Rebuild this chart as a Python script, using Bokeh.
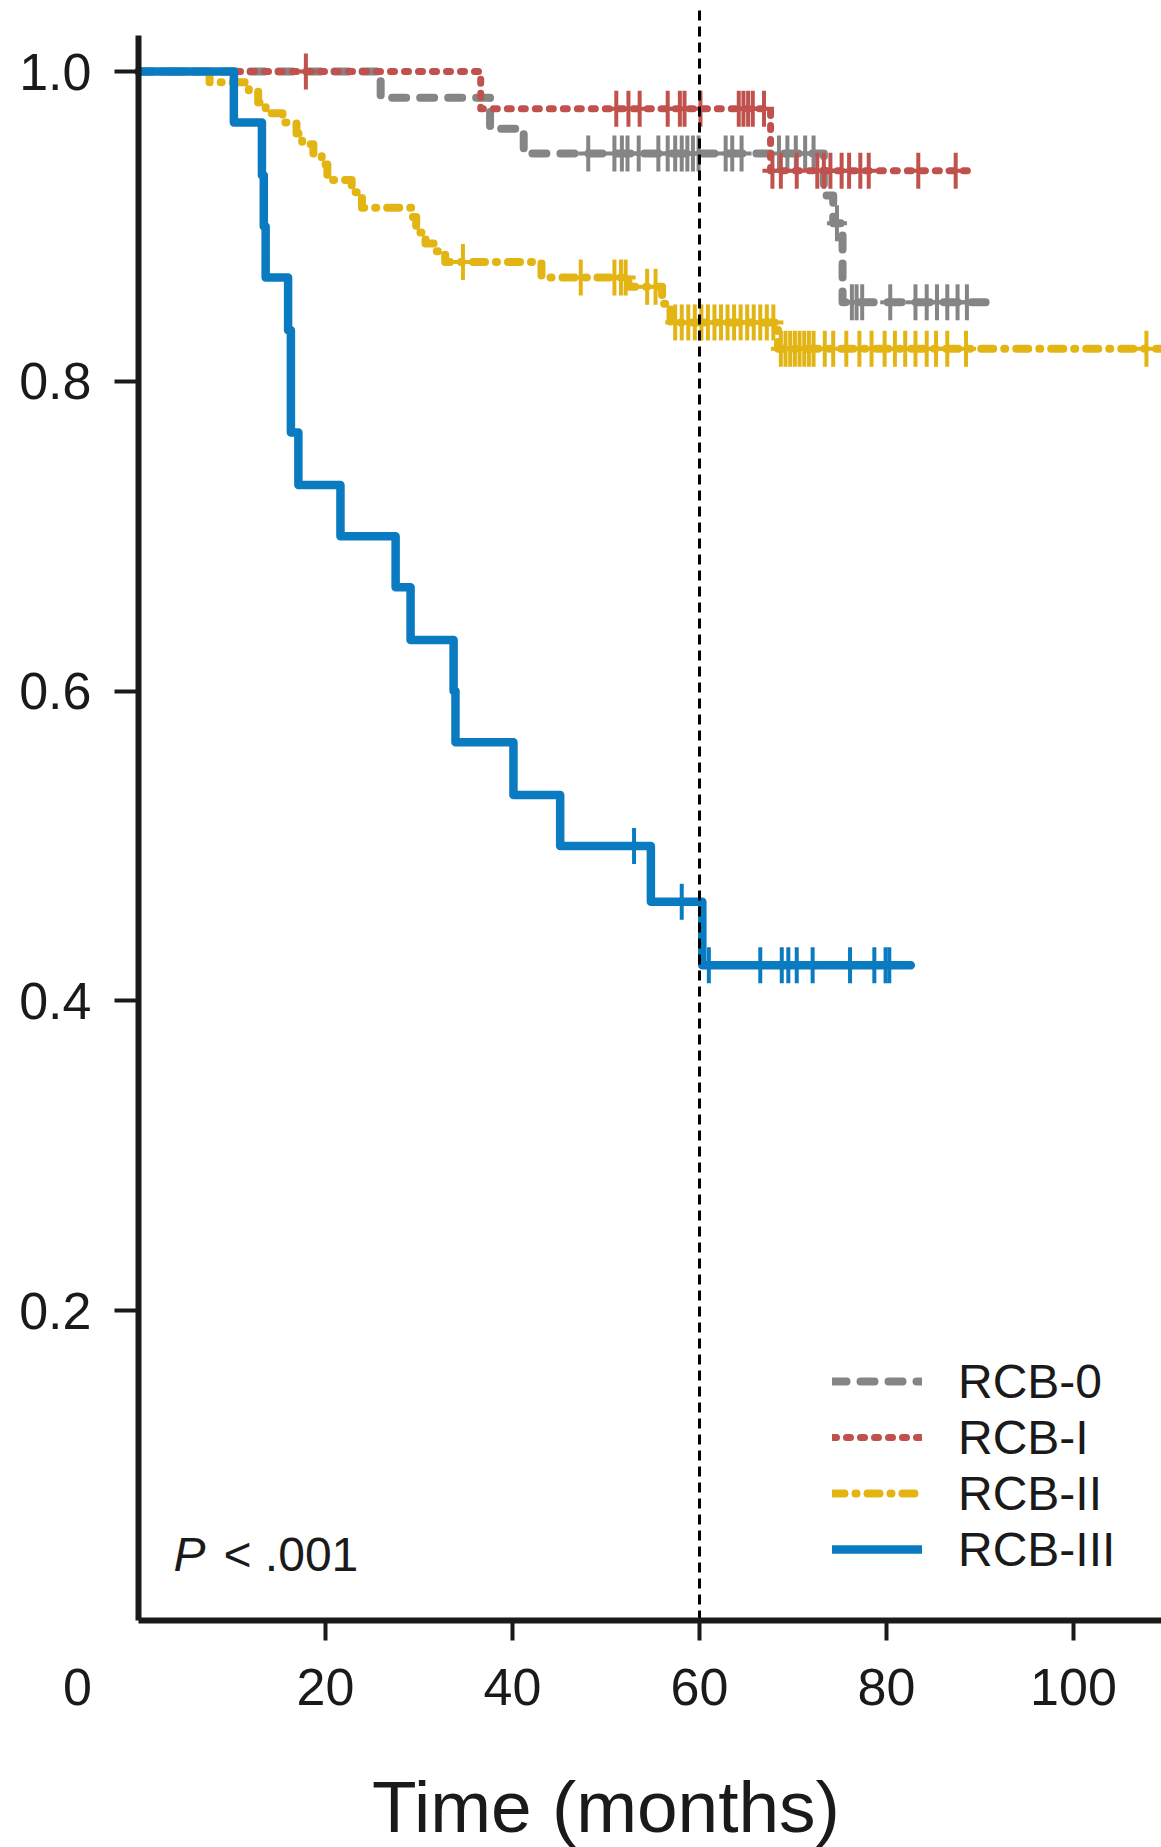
import math
from bokeh.plotting import figure
from bokeh.models import (Range1d, Label, Legend, LegendItem, FixedTicker,
                          PrintfTickFormatter)
from bokeh.embed import file_html
from bokeh.resources import INLINE

# ---------------- data ----------------
groups = ["RCB-0", "RCB-I", "RCB-II", "RCB-III"]

# step points of the Kaplan-Meier curves (time in months, survival)
rcb0_times = [0, 25.9, 37.6, 41.2, 73.3, 74.3, 75.3]
rcb0_surv = [1.0, 0.983, 0.963, 0.947, 0.920, 0.902, 0.851]
rcb0_censor = [48.1, 50.9, 51.7, 52.3, 53.5, 55.6, 56.6, 57.4, 58.1, 58.7, 59.3,
               59.9, 62.8, 63.5, 64.5, 68.5, 69.4, 70.3, 71.3, 72.2, 74.7, 76.3,
               76.8, 77.4, 80.4, 83.1, 84.3, 85.4, 86.5, 87.6, 88.6]
rcb0_end = 90.6

rcb1_times = [0, 36.6, 67.6]
rcb1_surv = [1.0, 0.976, 0.936]
rcb1_censor = [17.9, 51.1, 52.4, 53.6, 56.6, 57.9, 58.4, 60.1, 64.2, 64.7, 65.2,
               65.7, 66.9, 67.8, 68.7, 70.4, 72.6, 73.3, 74.0, 75.2, 76.0, 77.2,
               78.1, 83.4, 87.4]
rcb1_end = 89.0

rcb2_times = [0, 7.6, 11.8, 12.8, 13.6, 15.4, 16.9, 17.5, 18.7, 19.6, 20.2, 22.8,
              23.9, 29.2, 29.7, 30.7, 31.7, 32.8, 43.1, 52.4, 56.0, 56.9, 68.4]
rcb2_surv = [1.0, 0.993, 0.987, 0.980, 0.973, 0.967, 0.960, 0.953, 0.947, 0.940,
             0.930, 0.922, 0.912, 0.906, 0.896, 0.889, 0.884, 0.877, 0.867, 0.861,
             0.850, 0.838, 0.821]
rcb2_censor = [34.7, 47.3, 50.9, 51.6, 52.1, 54.4, 55.3, 57.4, 58.1, 58.8, 59.5,
               60.2, 60.9, 61.6, 62.3, 63.0, 63.7, 64.4, 65.1, 65.8, 66.5, 67.2,
               67.9, 68.7, 69.2, 69.7, 70.2, 70.7, 71.2, 71.7, 72.2, 73.4, 74.3,
               75.7, 77.1, 78.4, 79.8, 80.9, 82.0, 83.1, 84.3, 85.3, 86.5, 88.5,
               107.8]
rcb2_end = 110.0

rcb3_times = [0, 10.2, 13.2, 13.4, 13.6, 16.0, 16.3, 17.1, 21.6, 27.5, 29.1, 33.7,
              33.9, 40.1, 45.1, 54.8, 60.3]
rcb3_surv = [1.0, 0.967, 0.933, 0.900, 0.867, 0.833, 0.767, 0.733, 0.700, 0.667,
             0.633, 0.600, 0.567, 0.533, 0.500, 0.464, 0.423]
rcb3_censor = [53.0, 58.1, 61.0, 66.5, 68.8, 69.5, 70.4, 72.1, 76.1, 78.7, 79.9, 80.3]
rcb3_end = 82.6

landmark_month = 60
landmark_top = 1.04
x_ticks = [20, 40, 60, 80, 100]
y_ticks = [0.2, 0.4, 0.6, 0.8, 1.0]
origin_label = "0"
x_title = "Time (months)"
p_value_text = "< .001"

# ---------------- layout / styles ----------------
W, H = 1161, 1847
X0_PX, Y0_PX = 138, 1620          # pixel position of the data origin
PX_PER_MONTH, PX_PER_UNIT = 9.35, 1549.0

colors = {"RCB-0": "#858585", "RCB-I": "#c0514d", "RCB-II": "#e3b514", "RCB-III": "#0a7bc1"}
dashes = {"RCB-0": "14 14", "RCB-I": "4 10", "RCB-II": "12 11 1 11", "RCB-III": "solid"}
widths = {"RCB-0": 8, "RCB-I": 7, "RCB-II": 8, "RCB-III": 8.5}

FONT = "Liberation Sans"
INK = "#1a1a1a"

x_range = Range1d(-X0_PX / PX_PER_MONTH, (W - X0_PX) / PX_PER_MONTH)
y_range = Range1d(-(H - Y0_PX) / PX_PER_UNIT, Y0_PX / PX_PER_UNIT)

p = figure(width=W, height=H, output_backend="svg", toolbar_location=None,
           x_range=x_range, y_range=y_range,
           min_border_left=0, min_border_right=0, min_border_top=0, min_border_bottom=0)
p.outline_line_color = None
p.grid.visible = False
p.background_fill_color = "white"
p.border_fill_color = "white"


def surv_at(times, surv, t):
    s = surv[0]
    for ti, si in zip(times, surv):
        if ti <= t:
            s = si
    return s


series = {
    "RCB-0": (rcb0_times, rcb0_surv, rcb0_censor, rcb0_end),
    "RCB-I": (rcb1_times, rcb1_surv, rcb1_censor, rcb1_end),
    "RCB-II": (rcb2_times, rcb2_surv, rcb2_censor, rcb2_end),
    "RCB-III": (rcb3_times, rcb3_surv, rcb3_censor, rcb3_end),
}

renderers = {}
for name in ["RCB-0", "RCB-II", "RCB-I", "RCB-III"]:
    times, surv, cens, end = series[name]
    xs = list(times) + [min(end, x_range.end)]
    ys = list(surv) + [surv[-1]]
    r = p.step(xs, ys, mode="after", line_color=colors[name], line_width=widths[name],
               line_dash=dashes[name], line_cap="round", line_join="round")
    renderers[name] = r
    cy = [surv_at(times, surv, c) for c in cens]
    p.scatter(cens, cy, marker="dash", angle=math.pi / 2, size=36,
              line_color=colors[name], line_width=4)
    p.scatter(cens, cy, marker="dash", size=20, line_color=colors[name], line_width=4)

# landmark line at 60 months
p.line([landmark_month, landmark_month], [0, landmark_top], line_color="black",
       line_width=3, line_dash="10 6")

# axes through the origin
xa = p.xaxis[0]
ya = p.yaxis[0]
for ax in (xa, ya):
    ax.fixed_location = 0
    ax.axis_line_width = 6
    ax.axis_line_color = INK
    ax.major_tick_line_width = 4
    ax.major_tick_line_color = INK
    ax.minor_tick_line_color = None
    ax.major_tick_in = 0
    ax.major_label_text_font = FONT
    ax.major_label_text_font_size = "52px"
    ax.major_label_text_color = INK
xa.ticker = FixedTicker(ticks=x_ticks)
ya.ticker = FixedTicker(ticks=y_ticks)
ya.formatter = PrintfTickFormatter(format="%.1f")
xa.major_tick_out = 20
ya.major_tick_out = 24
xa.major_label_standoff = 28
ya.major_label_standoff = 23
xa.bounds = (0, x_range.end)
ya.bounds = (0, 1.023)

# origin label "0"
p.add_layout(Label(x=0, y=0, x_offset=-61, y_offset=-66, text=origin_label,
                   text_align="center", text_baseline="alphabetic", text_font=FONT,
                   text_font_size="52px", text_color=INK))

# x axis title, centred over 0-100
p.add_layout(Label(x=(0 + x_ticks[-1]) / 2, y=0, y_offset=-186, text=x_title,
                   text_align="center", text_baseline="alphabetic",
                   text_font=FONT, text_font_size="73px", text_color=INK))

# P value
p.add_layout(Label(x=0, y=0, x_offset=35, y_offset=66, text="P", text_font_style="italic",
                   text_baseline="alphabetic", text_font=FONT,
                   text_font_size="48px", text_color=INK))
p.add_layout(Label(x=0, y=0, x_offset=85, y_offset=66, text=p_value_text,
                   text_baseline="alphabetic", text_font=FONT,
                   text_font_size="48px", text_color=INK))

legend = Legend(items=[LegendItem(label=g, renderers=[renderers[g]]) for g in groups],
                location=(832, 270), padding=0, margin=0, spacing=0,
                glyph_width=90, glyph_height=56, label_height=56, label_standoff=36,
                label_text_font=FONT, label_text_font_size="48px",
                label_text_color=INK, background_fill_alpha=0, border_line_alpha=0)
p.add_layout(legend)

open("out.html", "w").write(file_html(p, INLINE))
